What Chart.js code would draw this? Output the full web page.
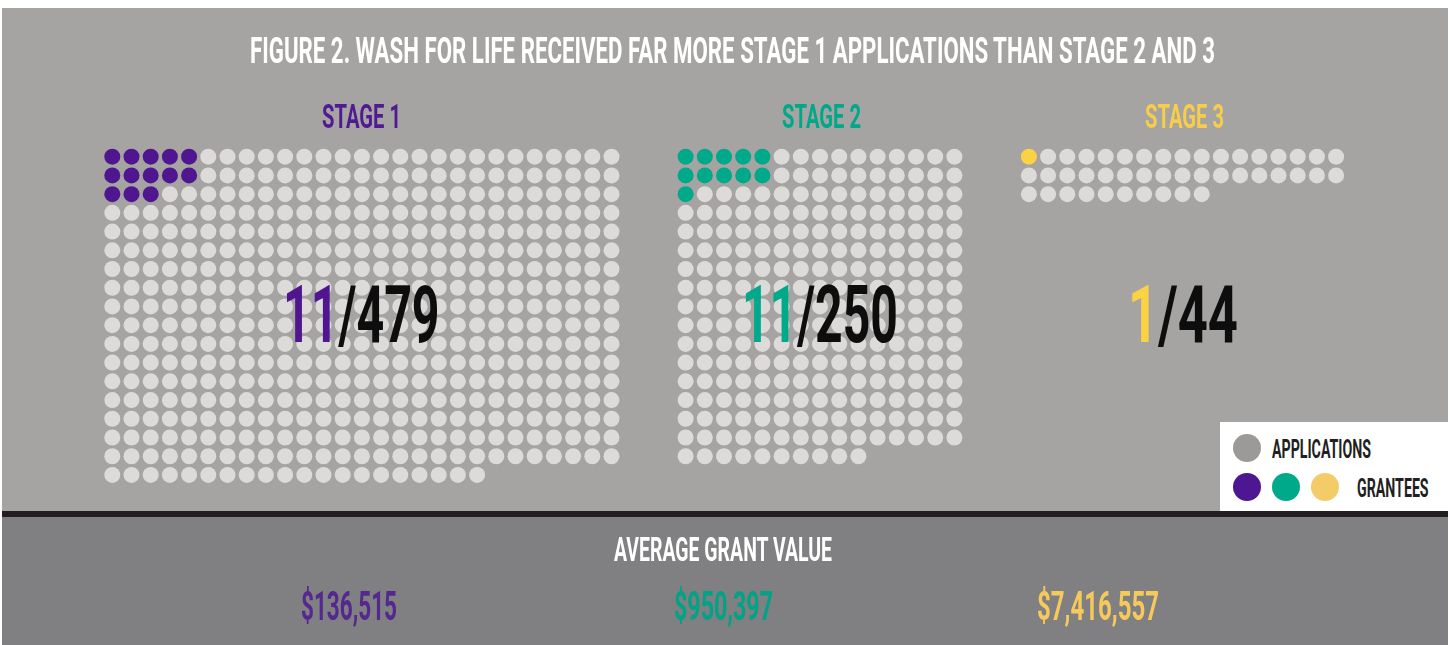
<!DOCTYPE html>
<html>
<head>
<meta charset="utf-8">
<script src="https://cdn.jsdelivr.net/npm/chart.js@4.4.1/dist/chart.umd.min.js"></script>
<style>
  html, body { margin: 0; padding: 0; }
  body { width: 1454px; height: 645px; background: #ffffff; position: relative; overflow: hidden; font-family: Roboto, "Liberation Sans", sans-serif; }
  .abs { position: absolute; }
  .txt { position: absolute; white-space: nowrap; font-weight: 700; transform-origin: 0 50%; }
  .dot { position: absolute; border-radius: 50%; }
</style>
</head>
<body>
<div class="abs" style="left:2px;top:8px;width:1446px;height:503px;background:#a5a4a2"></div>
<div class="abs" style="left:2px;top:511px;width:1446px;height:6px;background:#231f20"></div>
<div class="abs" style="left:2px;top:517px;width:1446px;height:128px;background:#807f81"></div>
<canvas id="c" class="abs" width="1454" height="645" style="left:0;top:0;width:1454px;height:645px"></canvas>
<div class="abs" style="left:1220px;top:422px;width:228px;height:89px;background:#ffffff"></div>
<div id="texts"></div>
<script>
// ---- data ----
const title = 'FIGURE 2. WASH FOR LIFE RECEIVED FAR MORE STAGE 1 APPLICATIONS THAN STAGE 2 AND 3';
const stages = ['STAGE 1', 'STAGE 2', 'STAGE 3'];
const applications = [479, 250, 44];
const grantees = [11, 11, 1];
const coloredDots = [13, 11, 1];          // grantee dots as drawn in the figure
const avgGrantValue = [136515, 950397, 7416557];
const avgTitle = 'AVERAGE GRANT VALUE';
const legendLabels = ['APPLICATIONS', 'GRANTEES'];

// ---- styles / layout ----
const stageColors = ['#50168f', '#00a98a', '#fbd244'];
const stageTextColors = ['#4f1a92', '#00a88a', '#f7cd4a'];
const valueColors = ['#55288f', '#00a386', '#f6c95c'];
const legendColors = ['#4e1792', '#00a98a', '#f4cb69'];
const appColor = '#dcdbd9';
const gridCols = [27, 15, 17];
const blockCols = 5;                       // grantee dots fill a 5-wide block
const groupOffset = [0, 29.86, 47.74];

// ---- chart ----
const datasets = stages.map((s, k) => {
  const pts = [], cols = [];
  for (let i = 0; i < applications[k]; i++) {
    const c = i % gridCols[k], r = Math.floor(i / gridCols[k]);
    pts.push({ x: groupOffset[k] + c, y: r });
    const inBlock = c < blockCols && (r * blockCols + c) < coloredDots[k];
    cols.push(inBlock ? stageColors[k] : appColor);
  }
  return { label: s, data: pts, pointBackgroundColor: cols, pointBorderWidth: 0, pointRadius: 8, pointHoverRadius: 8, clip: false };
});
const xMin = -112.3 / 19.2, yMin = -156.7 / 18.72;
new Chart(document.getElementById('c'), {
  type: 'scatter',
  data: { datasets },
  options: {
    responsive: false, animation: false, events: [],
    layout: { padding: 0, autoPadding: false },
    plugins: { legend: { display: false }, tooltip: { enabled: false } },
    scales: {
      x: { type: 'linear', display: false, min: xMin, max: xMin + 1454 / 19.2 },
      y: { type: 'linear', display: false, reverse: true, min: yMin, max: yMin + 645 / 18.72 }
    }
  }
});

// ---- text ----
const host = document.getElementById('texts');
function place(html, left, right, cy, fs, color) {
  const el = document.createElement('div');
  el.className = 'txt';
  el.innerHTML = html;
  el.style.color = color;
  el.style.fontSize = fs + 'px';
  el.style.lineHeight = fs + 'px';
  el.style.left = left + 'px';
  host.appendChild(el);
  const w = el.getBoundingClientRect().width;
  el.style.transform = 'scaleX(' + ((right - left) / w) + ')';
  el.style.top = (cy - 0.486 * fs) + 'px';
  return el;
}
function dot(cx, cy, r, color) {
  const d = document.createElement('div');
  d.className = 'dot';
  d.style.left = (cx - r) + 'px'; d.style.top = (cy - r) + 'px';
  d.style.width = d.style.height = (2 * r) + 'px';
  d.style.background = color;
  host.appendChild(d);
}
const fmt = v => '$' + v.toLocaleString('en-US');

place(title, 250, 1215, 50, 37, '#ffffff');
const stageX = [[322, 401], [782, 861], [1145, 1224]];
const bigX = [[282.7, 439.3], [742, 898], [1128.3, 1238.3]];
const valX = [[301, 397], [674, 773], [1037, 1159]];
stages.forEach((s, k) => {
  place(s, stageX[k][0], stageX[k][1], 115.5, 34, stageTextColors[k]);
  place('<span style="color:' + stageColors[k] + '">' + grantees[k] + '</span>/' + applications[k],
        bigX[k][0], bigX[k][1], 314.7, 79, '#0d0d0d');
  place(fmt(avgGrantValue[k]), valX[k][0], valX[k][1], 606, 40, valueColors[k]);
});
place(avgTitle, 614, 832, 549, 34, '#ffffff');

// legend
dot(1247.3, 448.3, 14, '#9b9a99');
legendColors.forEach((c, k) => dot([1247.3, 1286, 1325][k], 487.3, 14, c));
place(legendLabels[0], 1271.7, 1370.7, 449, 25, '#231f20');
place(legendLabels[1], 1356.7, 1428.3, 487.7, 25, '#231f20');
</script>
</body>
</html>
